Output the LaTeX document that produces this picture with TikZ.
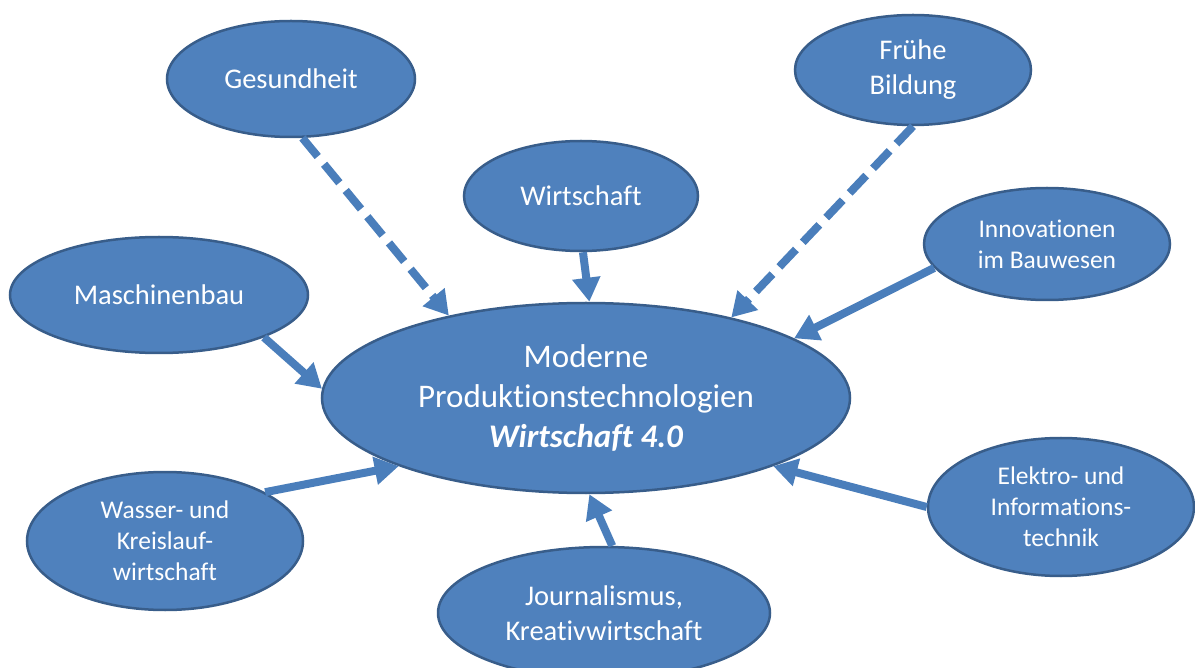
\documentclass[tikz,border=0pt]{standalone}
\usepackage{fontspec}
\setmainfont[Ligatures={NoCommon}]{Carlito}
\usetikzlibrary{shapes.geometric,arrows.meta}
\definecolor{bubblefill}{HTML}{4F81BD}
\definecolor{bubbleedge}{HTML}{385D8A}
\definecolor{linkblue}{HTML}{4A7EBB}
\tikzset{
  bubble/.style={ellipse, fill=bubblefill, draw=bubbleedge, line width=2.5pt,
    text=white, align=center, inner sep=0pt},
  bigtext/.style={font=\fontsize{28.5pt}{35pt}\selectfont},
  smalltext/.style={font=\fontsize{25.5pt}{31pt}\selectfont},
  centertext/.style={font=\fontsize{33pt}{40pt}\selectfont},
  link/.style={draw=linkblue, line width=8pt, -{Triangle[length=24pt,width=27pt]}},
  dashedlink/.style={link, dash pattern=on 24pt off 10pt},
}
\begin{document}
\begin{tikzpicture}[x=1pt,y=-1pt]
\clip (0,0) rectangle (1195,668);

% hub
\node[bubble, centertext, minimum width=528pt, minimum height=190pt] (cen) at (586,398)
  {Moderne\\Produktionstechnologien\\\textbf{\textit{Wirtschaft 4.0}}};

% surrounding fields
\node[bubble, bigtext, minimum width=248pt, minimum height=116pt] (ges) at (291,79) {Gesundheit};
\node[bubble, bigtext, minimum width=236pt, minimum height=110pt] (fru) at (913,70) {Frühe\\Bildung};
\node[bubble, bigtext, minimum width=234pt, minimum height=110pt] (wir) at (581,196) {Wirtschaft};
\node[bubble, smalltext, minimum width=246pt, minimum height=112pt] (inn) at (1047,244) {Innovationen\\im Bauwesen};
\node[bubble, bigtext, minimum width=298pt, minimum height=116pt] (mas) at (159,295) {Maschinenbau};
\node[bubble, smalltext, minimum width=276pt, minimum height=138pt] (was) at (165,541) {Wasser- und\\Kreislauf-\\wirtschaft};
\node[bubble, smalltext, minimum width=266pt, minimum height=138pt] (ele) at (1061,507) {Elektro- und\\Informations-\\technik};
\node[bubble, bigtext, minimum width=332pt, minimum height=132pt] (jou) at (604,613) {Journalismus,\\Kreativwirtschaft};

% connectors into the hub
\draw[dashedlink] (ges.-79) -- (cen.149);
\draw[dashedlink] (fru.-90) -- (cen.29);
\draw[link] (wir.-88) -- (cen.88);
\draw[link] (inn.-168) -- (cen.16);
\draw[link] (mas.-22) -- (cen.178);
\draw[link] (was.26) -- (cen.-160);
\draw[link] (ele.180) -- (cen.-20);
\draw[link] (jou.83) -- (cen.-88);
\end{tikzpicture}
\end{document}
